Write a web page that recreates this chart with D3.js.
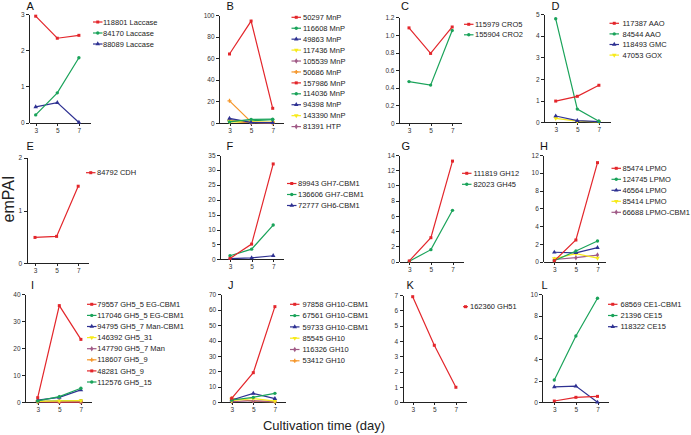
<!DOCTYPE html>
<html><head><meta charset="utf-8">
<script src="https://cdn.jsdelivr.net/npm/d3@7/dist/d3.min.js"></script>
<style>
body{margin:0;background:#fff;}
svg{display:block;font-family:"Liberation Sans",Arial,sans-serif;}
.axis path,.axis line{stroke:#222;stroke-width:1;shape-rendering:crispEdges;}
.axis text{font-size:6.5px;fill:#333;font-family:"Liberation Sans",Arial,sans-serif;}
</style></head>
<body>
<svg id="c" width="691" height="435"></svg>
<script>
// ---------- DATA ----------
const days = [3, 5, 7];
const letters = ["A","B","C","D","E","F","G","H","I","J","K","L"];

const namesA = ["118801 Laccase","84170 Laccase","88089 Laccase"];
const valuesA = [[2.94,2.33,2.41],[0.21,0.82,1.79],[0.43,0.55,0]];
const ticksA = [0,1,2,3];

const namesB = ["50297 MnP","116608 MnP","49863 MnP","117436 MnP","105539 MnP","50686 MnP","157986 MnP","114036 MnP","94398 MnP","143390 MnP","81391 HTP"];
const valuesB = [[63.9,94.4,13.6],[1.0,3.4,3.5],[4.3,0.5,0.3],[2.0,1.0,0.5],[3.0,0.5,0.3],[20.5,1.0,0.5],[2.0,0.5,0.3],[1.5,2.0,3.0],[3.0,0.5,0.2],[1.0,0.5,0.2],[2.5,0.3,0.2]];
const ticksB = [0,20,40,60,80,100];

const namesC = ["115979 CRO5","155904 CRO2"];
const valuesC = [[1.08,0.79,1.09],[0.47,0.43,1.05]];
const ticksC = [0,0.2,0.4,0.6,0.8,1.0,1.2];

const namesD = ["117387 AAO","84544 AAO","118493 GMC","47053 GOX"];
const valuesD = [[0.98,1.2,1.71],[4.78,0.61,0.05],[0.29,0.08,0.03],[0.18,0.05,0.02]];
const ticksD = [0,1,2,3,4,5];

const namesE = ["84792 CDH"];
const valuesE = [[0.49,0.51,1.46]];
const ticksE = [0,1,2];

const namesF = ["89943 GH7-CBM1","136606 GH7-CBM1","72777 GH6-CBM1"];
const valuesF = [[0.3,5.1,32],[1.2,3.4,11.5],[0.2,0.5,1.2]];
const ticksF = [0,5,10,15,20,25,30,35];

const namesG = ["111819 GH12","82023 GH45"];
const valuesG = [[0.1,3.15,13.2],[0.05,1.58,6.74]];
const ticksG = [0,2,4,6,8,10,12,14];

const namesH = ["85474 LPMO","124745 LPMO","46564 LPMO","85414 LPMO","66688 LPMO-CBM1"];
const valuesH = [[0.1,2.44,11.14],[0.1,1.2,2.33],[1.06,1.0,1.58],[0.35,0.9,0.4],[0.25,0.45,0.75]];
const ticksH = [0,2,4,6,8,10,12];

const namesI = ["79557 GH5_5 EG-CBM1","117046 GH5_5 EG-CBM1","94795 GH5_7 Man-CBM1","146392 GH5_31","147790 GH5_7 Man","118607 GH5_9","48281 GH5_9","112576 GH5_15"];
const valuesI = [[1.7,35.8,23.3],[0.5,2.1,5.2],[0.8,1.8,4.6],[0.3,0.5,0.6],[0.2,0.2,0.2],[0.4,0.3,0.3],[0.2,0.1,0.1],[0.3,0.5,0.6]];
const ticksI = [0,10,20,30,40];

const namesJ = ["97858 GH10-CBM1","67561 GH10-CBM1","59733 GH10-CBM1","85545 GH10","116326 GH10","53412 GH10"];
const valuesJ = [[2.6,19.2,62],[1.5,3.2,5.8],[1.5,5.8,2.4],[1.0,2.5,0.8],[0.5,1.0,0.5],[2.6,0.8,0.3]];
const ticksJ = [0,10,20,30,40,50,60,70];

const namesK = ["162360 GH51"];
const valuesK = [[6.89,3.72,0.98]];
const ticksK = [0,1,2,3,4,5,6,7];

const namesL = ["68569 CE1-CBM1","21396 CE15","118322 CE15"];
const valuesL = [[0.12,0.46,0.55],[2.06,6.14,9.63],[1.42,1.5,0]];
const ticksL = [0,2,4,6,8,10];

const yLabel = "emPAI";
const xLabel = "Cultivation time (day)";

// ---------- STYLE / LAYOUT ----------
const palette = ["#e3262b","#1aa35a","#2e3192","#f7ea1a","#a05a86","#f5962a"];
const shapes = [d3.symbolSquare, d3.symbolCircle, d3.symbolTriangle, d3.symbolTriangle, d3.symbolDiamond, d3.symbolCross];

const panels = [
  {names:namesA, values:valuesA, ticks:ticksA, ax:29,    x3:35.7,  xe:90,    y0:122.5, yt:14,    lt:[26.5,9.5], lx:93,    tx:103,   ly:22,    dy:11},
  {names:namesB, values:valuesB, ticks:ticksB, ax:219,   x3:229.5, xe:283,   y0:123,   yt:15,    lt:[226.5,9.5],lx:291.5, tx:303,   ly:17.3,  dy:10.93},
  {names:namesC, values:valuesC, ticks:ticksC, ax:399,   x3:409,   xe:461.7, y0:123,   yt:17.3,  lt:[401,9.5],  lx:464,   tx:475,   ly:24.3,  dy:10.5},
  {names:namesD, values:valuesD, ticks:ticksD, ax:544,   x3:555.7, xe:610,   y0:122.3, yt:14,    lt:[551.5,9.5],lx:609.5, tx:622.5, ly:23.3,  dy:10.6},
  {names:namesE, values:valuesE, ticks:ticksE, ax:26.7,  x3:35,    xe:88,    y0:263.3, yt:157.7, lt:[26.5,150], lx:86,    tx:97,    ly:172.7, dy:11},
  {names:namesF, values:valuesF, ticks:ticksF, ax:220,   x3:230,   xe:283,   y0:259.3, yt:155,   lt:[226.5,150],lx:287,   tx:298,   ly:183.5, dy:11},
  {names:namesG, values:valuesG, ticks:ticksG, ax:399.3, x3:409.3, xe:463,   y0:261.7, yt:155,   lt:[401.5,150],lx:462,   tx:473.5, ly:173.3, dy:11},
  {names:namesH, values:valuesH, ticks:ticksH, ax:543.3, x3:554.3, xe:605,   y0:261.7, yt:155,   lt:[540,150],  lx:611.5, tx:622.5, ly:168.3, dy:11},
  {names:namesI, values:valuesI, ticks:ticksI, ax:25,    x3:37.7,  xe:91,    y0:402.3, yt:294.3, lt:[31,289],   lx:87,    tx:97.3,  ly:304.3, dy:11.1},
  {names:namesJ, values:valuesJ, ticks:ticksJ, ax:220.7, x3:231.7, xe:285,   y0:402.3, yt:294.3, lt:[228,289],  lx:290,   tx:302.5, ly:304.3, dy:11.3},
  {names:namesK, values:valuesK, ticks:ticksK, ax:402.7, x3:412.7, xe:466,   y0:402.3, yt:295,   lt:[406.5,289],lx:463,   tx:470,   ly:306.7, dy:11},
  {names:namesL, values:valuesL, ticks:ticksL, ax:542.3, x3:554.3, xe:608,   y0:402.3, yt:294.3, lt:[541.5,289],lx:608,   tx:620.5, ly:304.3, dy:11.2}
];

const svg = d3.select("#c");

panels.forEach((p, pi) => {
  const g = svg.append("g");
  const x = d3.scaleLinear().domain([3,7]).range([p.x3, p.x3 + 43.2]);
  const xAxisScale = d3.scaleLinear().domain([x.invert(p.ax), x.invert(p.xe)]).range([p.ax, p.xe]);
  const ymax = p.ticks[p.ticks.length-1];
  const y = d3.scaleLinear().domain([0, ymax]).range([p.y0, p.yt]);
  const dec = p.ticks.some(t => t % 1 !== 0);
  const fmt = t => t === 0 ? "0" : (dec ? t.toFixed(1) : String(t));

  g.append("g").attr("class","axis")
    .attr("transform", `translate(0,${p.y0})`)
    .call(d3.axisBottom(xAxisScale).tickValues(days).tickFormat(d3.format("d")).tickSize(3).tickSizeOuter(0).tickPadding(2.5));
  g.append("g").attr("class","axis")
    .attr("transform", `translate(${p.ax},0)`)
    .call(d3.axisLeft(y).tickValues(p.ticks).tickFormat(fmt).tickSize(3).tickSizeOuter(0).tickPadding(1.5));

  const line = d3.line().x((d,i) => x(days[i])).y(d => y(d));
  const order = d3.range(p.values.length).reverse();
  order.forEach(si => {
    const col = palette[si % palette.length];
    const shp = shapes[si % shapes.length];
    const vals = p.values[si];
    g.append("path").attr("d", line(vals)).attr("fill","none")
      .attr("stroke", col).attr("stroke-width", 1.2);
    g.selectAll(null).data(vals).enter().append("path")
      .attr("transform", (d,i) => `translate(${x(days[i])},${y(d)})` + ((si % shapes.length)===3 ? " rotate(180)" : ""))
      .attr("d", d3.symbol().type(shp).size(9)())
      .attr("fill", col);
  });

  // legend
  const ll = pi === 10 ? 5 : 9.5;
  p.names.forEach((nm, si) => {
    const col = palette[si % palette.length];
    const shp = shapes[si % shapes.length];
    const yy = p.ly + si * p.dy;
    g.append("line").attr("x1", p.lx).attr("x2", p.lx + ll).attr("y1", yy).attr("y2", yy)
      .attr("stroke", col).attr("stroke-width", 1.2);
    g.append("path").attr("transform", `translate(${p.lx + ll/2},${yy})` + ((si % shapes.length)===3 ? " rotate(180)" : ""))
      .attr("d", d3.symbol().type(shp).size(9)()).attr("fill", col);
    g.append("text").attr("x", p.tx).attr("y", yy).attr("dy","0.35em")
      .attr("font-size", 7.5).attr("fill", "#222").text(nm);
  });

  g.append("text").attr("x", p.lt[0]).attr("y", p.lt[1])
    .attr("font-size", 11).attr("fill","#111").text(letters[pi]);
});

svg.append("text").attr("transform","translate(14,199) rotate(-90)")
  .attr("text-anchor","middle").attr("font-size",16).attr("fill","#222").text(yLabel);
svg.append("text").attr("x",324).attr("y",430).attr("text-anchor","middle")
  .attr("font-size",13).attr("fill","#222").text(xLabel);
</script>
</body></html>
